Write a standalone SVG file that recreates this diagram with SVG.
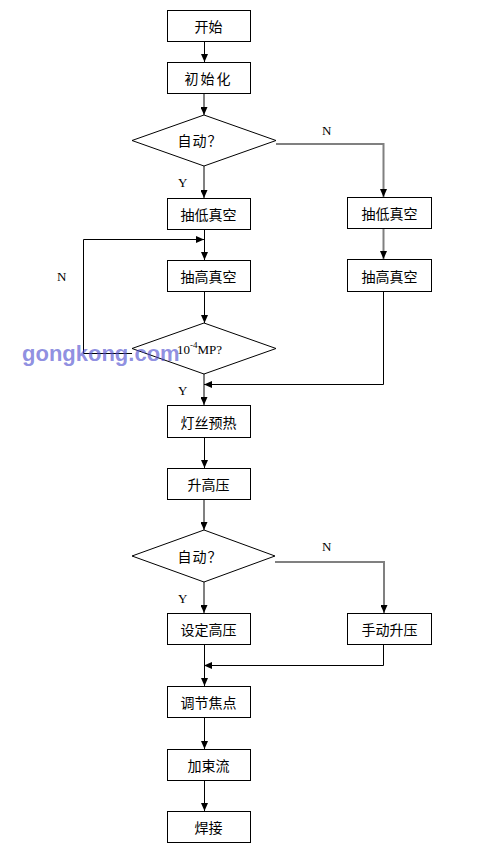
<svg xmlns="http://www.w3.org/2000/svg" width="493" height="864" viewBox="0 0 493 864">
<style>
.box{fill:#fff;stroke:#000;stroke-width:1}
.dia{fill:#fff;stroke:#000;stroke-width:1}
.t{font-family:"Noto Sans CJK SC","Noto Sans",sans-serif;font-size:14px;text-anchor:middle;dominant-baseline:central;fill:#000}
.lbl{font-family:"Liberation Serif","Times New Roman",serif;font-size:13px;fill:#000}
.k{fill:none;stroke:#000;stroke-width:1}
.g{fill:none;stroke:#808080;stroke-width:2}
.wm{font-family:"Liberation Sans",Arial,sans-serif;font-weight:bold;font-size:22px;fill:#5050d0;fill-opacity:0.65}
</style>
<defs>
<marker id="ah" markerUnits="userSpaceOnUse" markerWidth="8" markerHeight="7" refX="8" refY="3.5" orient="auto">
<path d="M0,0 L8,3.5 L0,7 z" fill="#000"/>
</marker>
</defs>
<rect width="493" height="864" fill="#fff"/>

<g id="connectors">
<path class="k" d="M204.5,41 V62" marker-end="url(#ah)"/>
<path class="g" d="M204,93 V115" marker-end="url(#ah)"/>
<path class="g" d="M204,166 V198" marker-end="url(#ah)"/>
<path class="g" d="M276,144 H383.5 V197" marker-end="url(#ah)"/>
<path class="k" d="M204.5,229 V260" marker-end="url(#ah)"/>
<path class="g" d="M383.5,228 V259" marker-end="url(#ah)"/>
<path class="k" d="M204.5,291 V323" marker-end="url(#ah)"/>
<path class="k" d="M132,353.5 H83.5 V239.5 H204" marker-end="url(#ah)"/>
<path class="g" d="M204,374 V405" marker-end="url(#ah)"/>
<path class="k" d="M383.5,291 V384.5 H204" marker-end="url(#ah)"/>
<path class="k" d="M204.5,437 V468" marker-end="url(#ah)"/>
<path class="g" d="M204,499 V530" marker-end="url(#ah)"/>
<path class="g" d="M204,582 V613" marker-end="url(#ah)"/>
<path class="g" d="M275,562 H384 V613" marker-end="url(#ah)"/>
<path class="k" d="M204.5,644 V686" marker-end="url(#ah)"/>
<path class="k" d="M383.5,644 V665.5 H204" marker-end="url(#ah)"/>
<path class="k" d="M204.5,717 V749" marker-end="url(#ah)"/>
<path class="k" d="M204.5,780 V811" marker-end="url(#ah)"/>
</g>

<g id="labels">
<text class="lbl" x="178" y="187">Y</text>
<text class="lbl" x="322" y="135">N</text>
<text class="lbl" x="57" y="281">N</text>
<text class="lbl" x="178" y="395">Y</text>
<text class="lbl" x="322" y="551">N</text>
<text class="lbl" x="178" y="603">Y</text>
</g>

<g id="n-start"><rect class="box" x="167.5" y="10.5" width="83" height="31"/><text class="t" x="208.5" y="26">开始</text></g>
<g id="n-init"><rect class="box" x="167.5" y="62.5" width="83" height="31"/><text class="t" x="208.5" y="78" letter-spacing="2">初始化</text></g>
<g id="n-auto1"><polygon class="dia" points="204,115 276,140.5 204,166 132,140.5"/><text class="t" x="200" y="140" letter-spacing="1">自动？</text></g>
<g id="n-low1"><rect class="box" x="167.5" y="198.5" width="83" height="31"/><text class="t" x="208.5" y="214">抽低真空</text></g>
<g id="n-high1"><rect class="box" x="167.5" y="260.5" width="83" height="31"/><text class="t" x="208.5" y="276">抽高真空</text></g>
<g id="n-low2"><rect class="box" x="347.5" y="197.5" width="84" height="31"/><text class="t" x="389.5" y="213">抽低真空</text></g>
<g id="n-high2"><rect class="box" x="347.5" y="259.5" width="84" height="32"/><text class="t" x="389.5" y="275.5">抽高真空</text></g>
<g id="n-vac"><polygon class="dia" points="204,323 276,348.5 204,374 132,348.5"/><text class="lbl" x="177" y="354" font-size="14px">10<tspan font-size="9px" dy="-6">-4</tspan><tspan dy="6">MP?</tspan></text></g>
<g id="n-fil"><rect class="box" x="167.5" y="405.5" width="83" height="32"/><text class="t" x="208.5" y="421.5">灯丝预热</text></g>
<g id="n-hv"><rect class="box" x="167.5" y="468.5" width="83" height="31"/><text class="t" x="208.5" y="484">升高压</text></g>
<g id="n-auto2"><polygon class="dia" points="204,530 275,556 204,582 132,556"/><text class="t" x="200" y="556" letter-spacing="1">自动？</text></g>
<g id="n-set"><rect class="box" x="167.5" y="613.5" width="83" height="31"/><text class="t" x="208.5" y="629">设定高压</text></g>
<g id="n-man"><rect class="box" x="347.5" y="613.5" width="84" height="31"/><text class="t" x="389.5" y="629">手动升压</text></g>
<g id="n-focus"><rect class="box" x="167.5" y="686.5" width="83" height="31"/><text class="t" x="208.5" y="702">调节焦点</text></g>
<g id="n-beam"><rect class="box" x="167.5" y="749.5" width="83" height="31"/><text class="t" x="208.5" y="765">加束流</text></g>
<g id="n-weld"><rect class="box" x="167.5" y="811.5" width="83" height="31"/><text class="t" x="208.5" y="827">焊接</text></g>

<text class="wm" x="22" y="361">gongkong.com</text>
</svg>
